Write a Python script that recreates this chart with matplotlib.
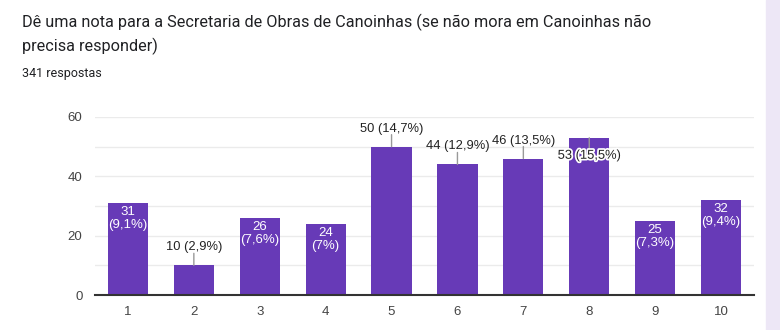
import matplotlib
matplotlib.use("Agg")
import matplotlib.pyplot as plt
import matplotlib.patheffects as pe
import numpy as np

# dados
notas = ['1', '2', '3', '4', '5', '6', '7', '8', '9', '10']
respostas = [31, 10, 26, 24, 50, 44, 46, 53, 25, 32]
percentuais = ['9,1%', '2,9%', '7,6%', '7%', '14,7%', '12,9%', '13,5%', '15,5%', '7,3%', '9,4%']
# onde fica o rótulo: dentro da barra, acima, ou sobreposto ao topo
posicao = ['in', 'out', 'in', 'in', 'out', 'out', 'out', 'over', 'in', 'in']
total = 341

titulo1 = "Dê uma nota para a Secretaria de Obras de Canoinhas (se não mora em Canoinhas não"
titulo2 = "precisa responder)"
roxo = '#673AB7'

fig = plt.figure(figsize=(7.8, 3.3), dpi=100)
fig.patch.set_facecolor('white')

# faixa lilás à direita
fig.patches.append(plt.Rectangle((766 / 780, 0), 14 / 780, 1, transform=fig.transFigure,
                                 color='#ede7f6', zorder=0))

fig.text(22 / 780, 1 - 22 / 330, titulo1, fontfamily='Roboto', fontsize=11.7, color='#202124',
         va='center', ha='left')
fig.text(22 / 780, 1 - 46 / 330, titulo2, fontfamily='Roboto', fontsize=11.7, color='#202124',
         va='center', ha='left')
fig.text(22 / 780, 1 - 73 / 330, f"{total} respostas", fontfamily='Roboto', fontsize=9,
         color='#202124', va='center', ha='left')

ax = fig.add_axes([95 / 780, 1 - 295 / 330, 659 / 780, 178 / 330])
x = np.arange(len(notas))
ax.bar(x, respostas, width=0.61, color=roxo, zorder=3)

ax.set_xlim(-0.5, len(notas) - 0.5)
ax.set_ylim(0, 60)
ax.set_yticks([0, 20, 40, 60])
ax.set_yticks([10, 30, 50], minor=True)
ax.set_xticks(x)
ax.set_xticklabels(notas)
ax.grid(axis='y', which='both', color='#ebebeb', linewidth=1, zorder=0)
ax.tick_params(axis='both', which='both', length=0, labelsize=9.5, labelcolor='#444444', pad=8)
ax.tick_params(axis='y', pad=9)
for lbl in ax.get_xticklabels() + ax.get_yticklabels():
    lbl.set_fontfamily('Liberation Sans')
for s in ['top', 'right', 'left']:
    ax.spines[s].set_visible(False)
ax.spines['bottom'].set_color('#333333')
ax.spines['bottom'].set_linewidth(1.5)
ax.spines['bottom'].set_zorder(4)

for i, (v, p, pos) in enumerate(zip(respostas, percentuais, posicao)):
    if pos == 'in':
        ax.annotate(f"{v}\n({p})", (i, v), xytext=(0, -3), textcoords='offset pixels',
                    ha='center', va='top', color='white', fontsize=9.5,
                    fontfamily='Liberation Sans', linespacing=1.1, zorder=5)
    elif pos == 'out':
        ax.annotate('', (i, v), xytext=(0, 12), textcoords='offset pixels',
                    arrowprops=dict(arrowstyle='-', color='#999999', lw=1, shrinkA=0, shrinkB=0),
                    zorder=5)
        ax.annotate(f"{v} ({p})", (i, v), xytext=(0, 18), textcoords='offset pixels',
                    ha='center', va='center', color='#222222', fontsize=9.3,
                    fontfamily='Liberation Sans', zorder=5, annotation_clip=False)
    else:
        ax.annotate('', (i, v), xytext=(0, -12), textcoords='offset pixels',
                    arrowprops=dict(arrowstyle='-', color='#999999', lw=1, shrinkA=0, shrinkB=0),
                    zorder=5)
        ax.annotate(f"{v} ({p})", (i, v), xytext=(0, -18), textcoords='offset pixels',
                    ha='center', va='center', color='#222222', fontsize=9.3,
                    fontfamily='Liberation Sans', zorder=6,
                    path_effects=[pe.withStroke(linewidth=2.5, foreground='white')])

plt.savefig('out.png', dpi=100)
